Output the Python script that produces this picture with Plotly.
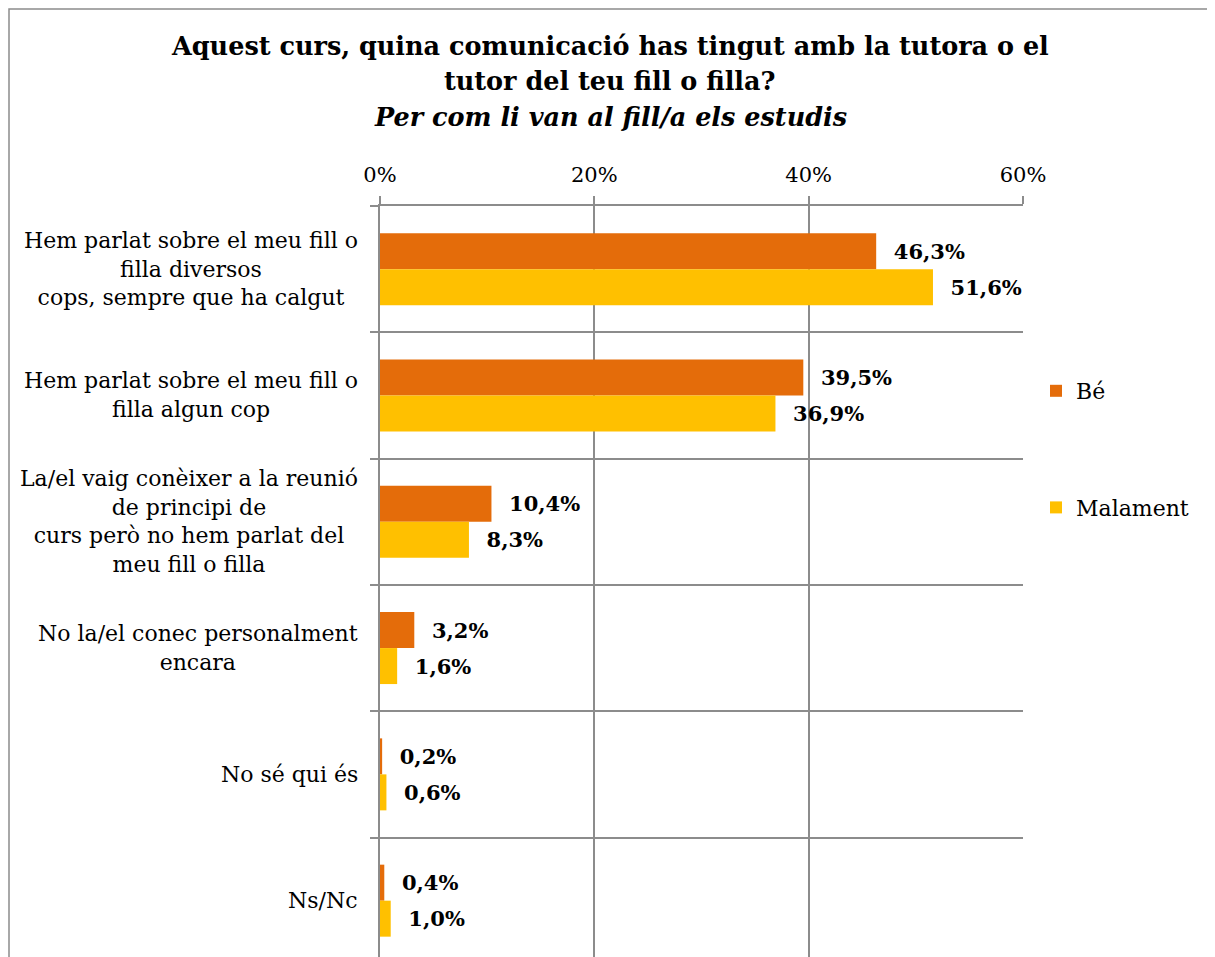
import plotly.graph_objects as go

categories = [
    "Hem parlat sobre el meu fill o<br>filla diversos<br>cops, sempre que ha calgut",
    "Hem parlat sobre el meu fill o<br>filla algun cop",
    "La/el vaig conèixer a la reunió<br>de principi de<br>curs però no hem parlat del<br>meu fill o filla",
    "No la/el conec personalment<br>encara",
    "No sé qui és",
    "Ns/Nc",
]
be_values = [46.3, 39.5, 10.4, 3.2, 0.2, 0.4]
malament_values = [51.6, 36.9, 8.3, 1.6, 0.6, 1.0]
series_names = ["Bé", "Malament"]
x_ticks = [0, 20, 40, 60]
x_ticktext = ["0%", "20%", "40%", "60%"]
title_lines = [
    "<b>Aquest curs, quina comunicació has tingut amb la tutora o el</b>",
    "<b>tutor del teu fill o filla?</b>",
    "<b><i>Per com li van al fill/a els estudis</i></b>",
]

OFF = 8  # page body offset
W, H = 1215 - OFF, 957 - OFF
L = 380 - OFF
T = 206 - OFF
R = W - (1023 - OFF)
B = 0
pw, ph = W - L - R, H - T - B
SERIF = "DejaVu Serif"

def px2x(p):
    return (p - OFF - L) / pw

def py2y(p):
    return (H - B - (p - OFF)) / ph

fig = go.Figure()
for name, vals, color, grp in [(series_names[0], be_values, "#E46C0A", "a"),
                               (series_names[1], malament_values, "#FFC000", "b")]:
    fig.add_trace(go.Bar(
        y=categories, x=vals, name=name, orientation="h",
        marker=dict(color=color, line=dict(width=0)),
        texttemplate="\u00a0\u00a0%{x:.1f}%", textposition="outside",
        textfont=dict(family=SERIF, size=21, color="#000000", weight="bold"),
        cliponaxis=False, constraintext="none", legendgroup=grp,
    ))

for c in categories:
    fig.add_annotation(x=0, xref="paper", y=c, yref="y", text=c, showarrow=False,
                       xanchor="right", yanchor="middle", align="center", xshift=-20,
                       font=dict(family=SERIF, size=22, color="#000000"))

for txt, yc in zip(title_lines, [46, 81, 117]):
    fig.add_annotation(x=px2x(610), xref="paper", y=py2y(yc), yref="paper", text=txt,
                       showarrow=False, xanchor="center", yanchor="middle",
                       font=dict(family=SERIF, size=25.5, color="#000000"))

fig.add_shape(type="rect", xref="paper", yref="paper",
              x0=px2x(9), x1=px2x(1212), y0=py2y(1000), y1=py2y(9),
              line=dict(color="#8c8c8c", width=1.5), fillcolor="rgba(0,0,0,0)", layer="below")

fig.update_layout(
    width=W, height=H,
    margin=dict(l=L, r=R, t=T, b=B, pad=0),
    paper_bgcolor="white", plot_bgcolor="white",
    barmode="group", bargap=0.43, bargroupgap=0,
    separators=",.",
    xaxis=dict(
        side="top", range=[0, 60], tickmode="array", tickvals=x_ticks, ticktext=x_ticktext,
        showgrid=True, gridcolor="#8c8c8c", gridwidth=1.5,
        showline=True, linecolor="#8c8c8c", linewidth=1.5,
        ticks="outside", ticklen=8, tickcolor="#8c8c8c", tickwidth=1.5,
        ticklabelstandoff=6,
        tickfont=dict(family=SERIF, size=21, color="#000000"),
        zeroline=False, fixedrange=True,
    ),
    yaxis=dict(
        type="category", range=[5.446, -0.5], showticklabels=False,
        tickson="boundaries", ticks="outside", ticklen=8, tickcolor="#8c8c8c", tickwidth=1.5,
        showgrid=True, gridcolor="#8c8c8c", gridwidth=1.5,
        showline=True, linecolor="#8c8c8c", linewidth=1.5,
        zeroline=False, fixedrange=True,
    ),
    legend=dict(
        x=px2x(1036), y=py2y(370), xanchor="left", yanchor="top",
        traceorder="grouped", tracegroupgap=85, itemwidth=30,
        font=dict(family=SERIF, size=22, color="#000000"),
        bgcolor="rgba(0,0,0,0)",
    ),
    showlegend=True,
)

fig.write_html("out.html")
